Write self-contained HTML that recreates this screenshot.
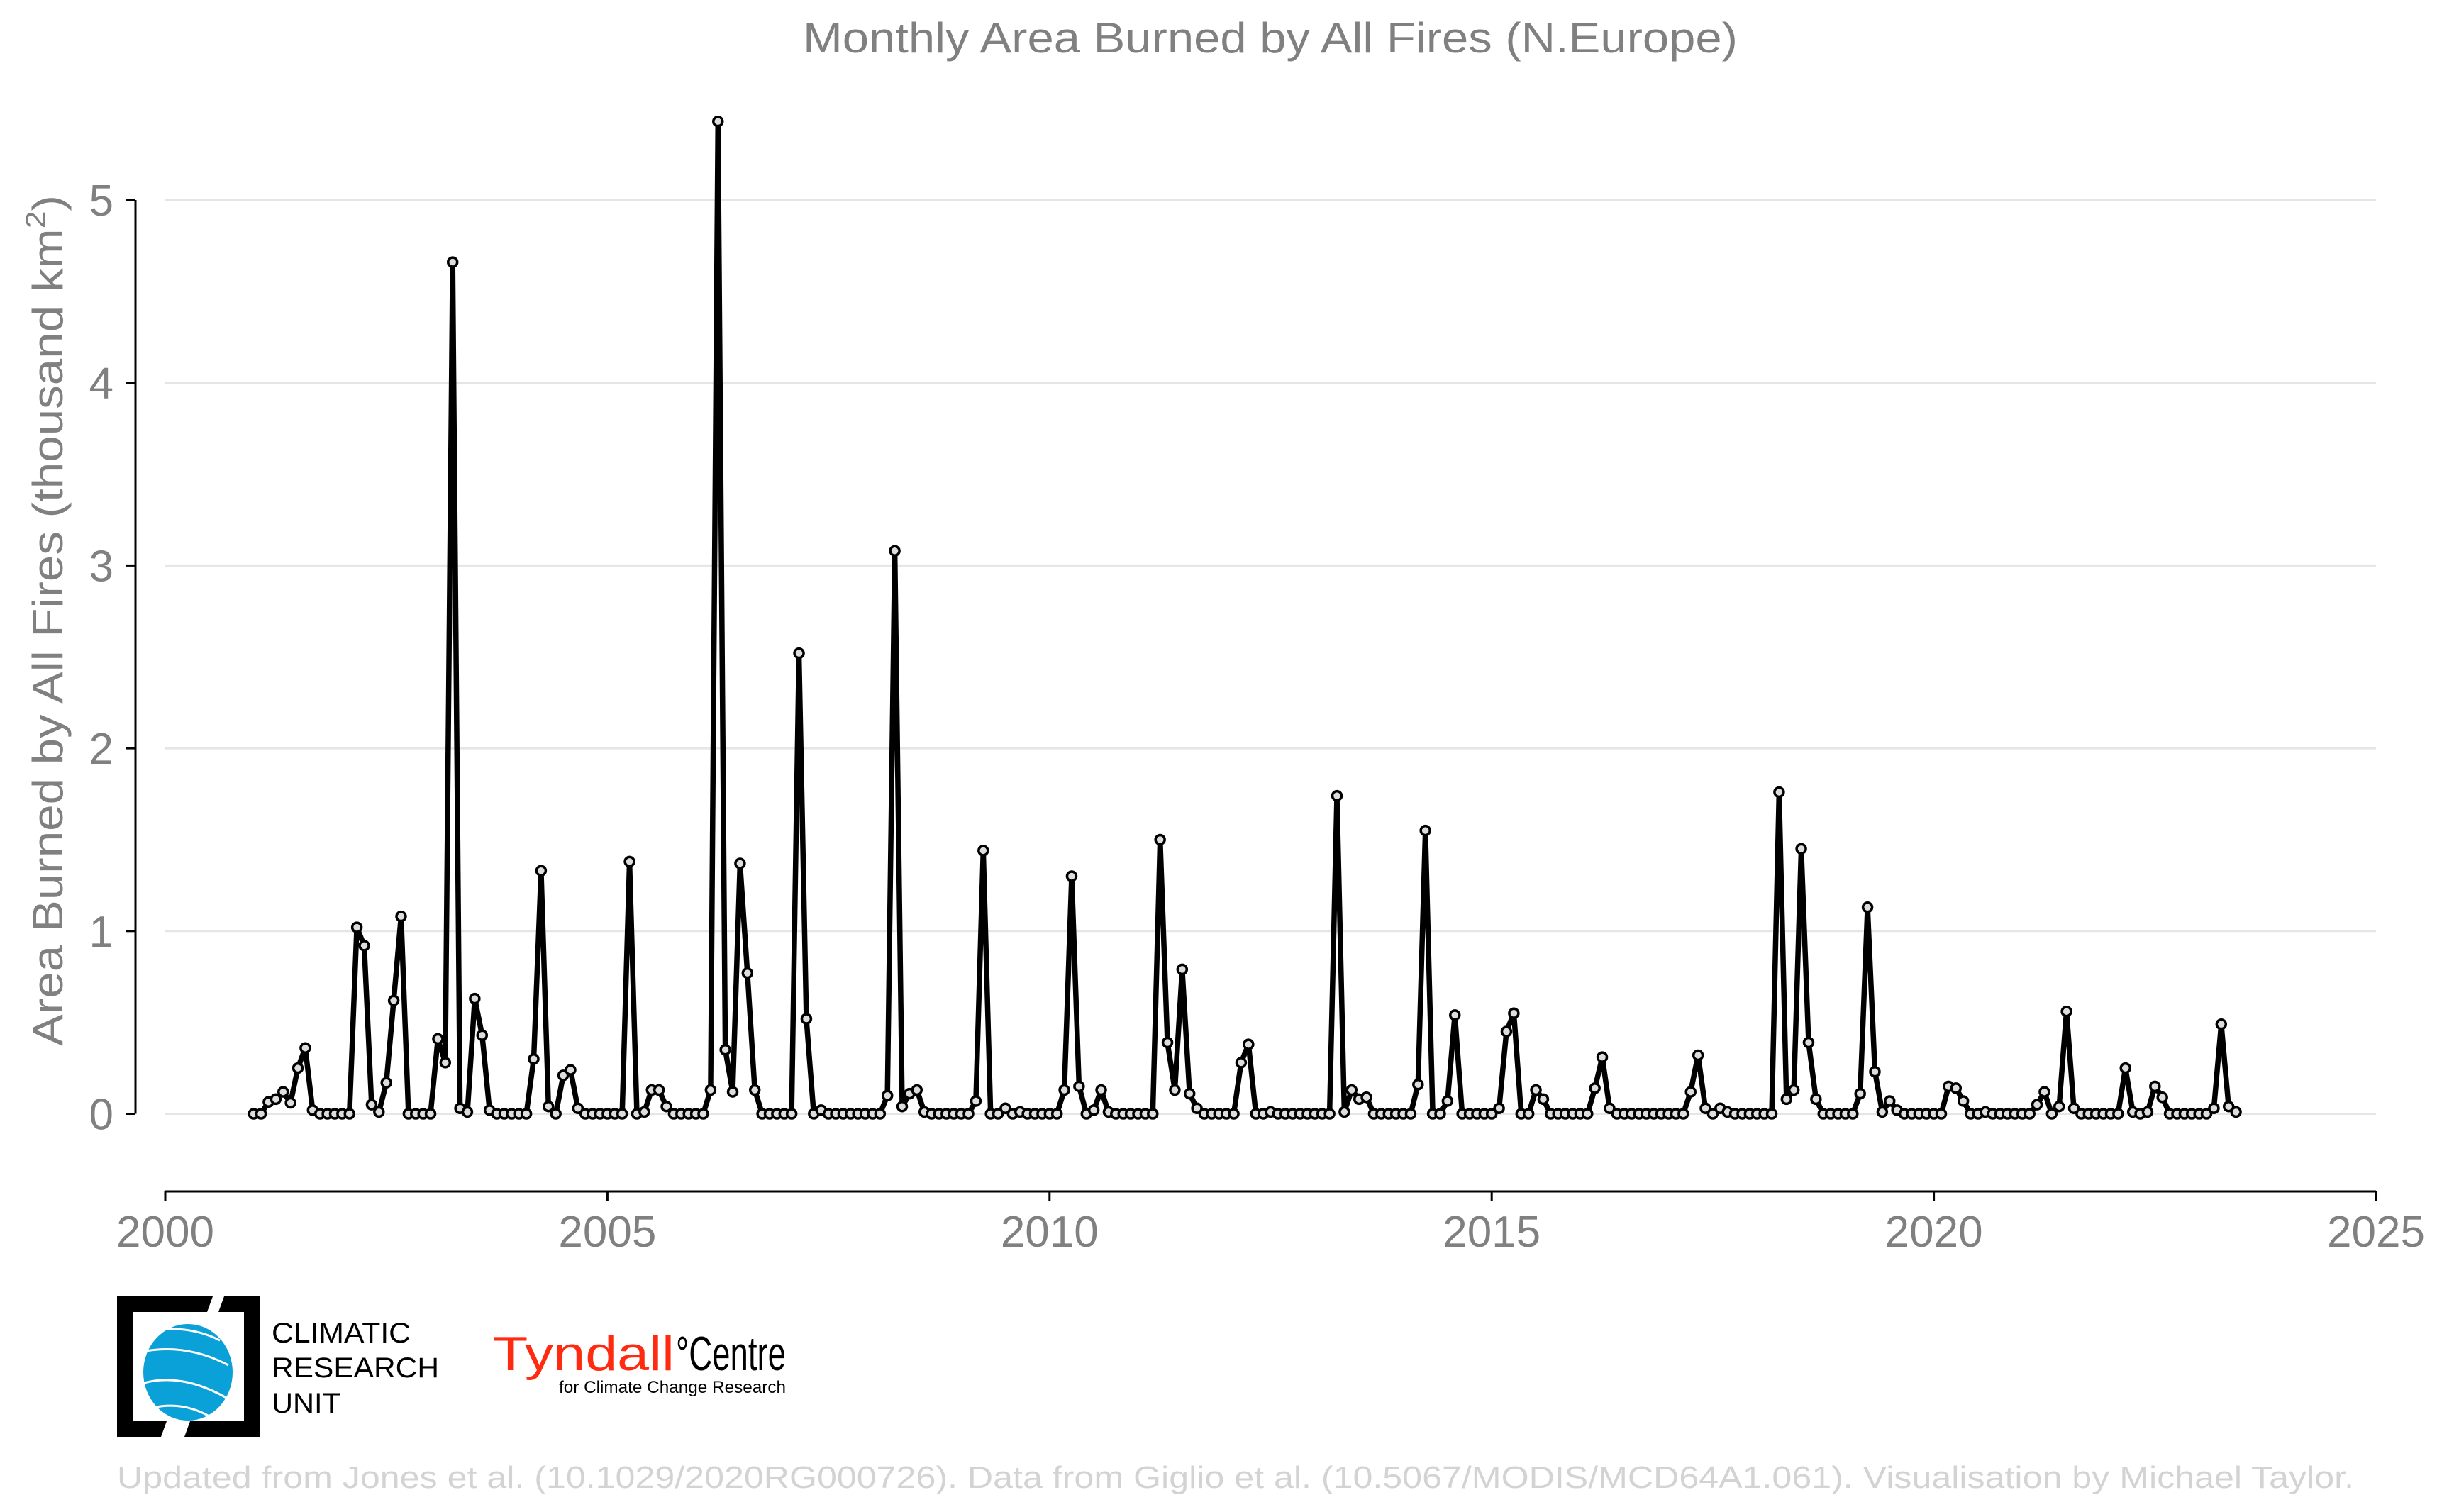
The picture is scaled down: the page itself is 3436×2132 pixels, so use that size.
<!DOCTYPE html>
<html>
<head>
<meta charset="utf-8">
<style>
  html, body { margin: 0; padding: 0; background: #ffffff; }
  svg { display: block; }
  text { font-family: "Liberation Sans", sans-serif; }
</style>
</head>
<body>
<svg id="chart" width="3436" height="2132" viewBox="0 0 3436 2132" xmlns="http://www.w3.org/2000/svg">
  <rect x="0" y="0" width="3436" height="2132" fill="#ffffff"/>
  <text x="1791" y="74" text-anchor="middle" font-size="60" fill="#808080" textLength="1318" lengthAdjust="spacingAndGlyphs">Monthly Area Burned by All Fires (N.Europe)</text>
  <g id="grid"></g>
  <g id="yaxis"></g>
  <g id="xaxis"></g>
  <text transform="translate(88,875) rotate(-90)" text-anchor="middle" font-size="60" fill="#808080" textLength="1200" lengthAdjust="spacingAndGlyphs">Area Burned by All Fires (thousand km<tspan font-size="40" dy="-24">2</tspan><tspan dy="24">)</tspan></text>
  <g id="series"></g>

  <g>
    <path d="M165,1828 L300,1828 L292,1850 L187,1850 L187,2004 L235,2004 L227,2026 L165,2026 Z" fill="#000"/>
    <path d="M316,1828 L366,1828 L366,2026 L260,2026 L268,2004 L344,2004 L344,1850 L308,1850 Z" fill="#000"/>
    <ellipse cx="265" cy="1935" rx="63" ry="68" fill="#0aa0d8"/>
    <path d="M206,1905 Q265,1895 322,1925 M203,1950 Q260,1935 326,1975 M215,1985 Q260,1975 300,2000 M225,1875 Q270,1870 310,1890" stroke="#fff" stroke-width="3" fill="none"/>
    <text x="383" y="1893" font-size="40" fill="#000" textLength="196" lengthAdjust="spacingAndGlyphs">CLIMATIC</text>
    <text x="383" y="1942" font-size="40" fill="#000" textLength="236" lengthAdjust="spacingAndGlyphs">RESEARCH</text>
    <text x="383" y="1992" font-size="40" fill="#000" textLength="97" lengthAdjust="spacingAndGlyphs">UNIT</text>
  </g>
  <g>
    <text x="695" y="1932" font-size="68" fill="#ff2a10" textLength="256" lengthAdjust="spacingAndGlyphs">Tyndall</text>
    <text x="953" y="1932" font-size="68" fill="#000" textLength="155" lengthAdjust="spacingAndGlyphs">°Centre</text>
    <text x="788" y="1964" font-size="24" fill="#000" textLength="320" lengthAdjust="spacingAndGlyphs">for Climate Change Research</text>
  </g>
  <text x="165" y="2098" font-size="44" fill="#d3d3d3" textLength="3154" lengthAdjust="spacingAndGlyphs">Updated from Jones et al. (10.1029/2020RG000726). Data from Giglio et al. (10.5067/MODIS/MCD64A1.061). Visualisation by Michael Taylor.</text>
</svg>
<script>
const startYear = 2001;
const startMonth = 1;
const yTickValues = [0, 1, 2, 3, 4, 5];
const yTickLabels = ["0", "1", "2", "3", "4", "5"];
const xTickValues = [2000, 2005, 2010, 2015, 2020, 2025];
const xTickLabels = ["2000", "2005", "2010", "2015", "2020", "2025"];
const burned = [
  0,0,0.065,0.08,0.12,0.06,0.25,0.36,0.02,0,0,0,
  0,0,1.02,0.92,0.05,0.01,0.17,0.62,1.08,0,0,0,
  0,0.41,0.28,4.66,0.03,0.01,0.63,0.43,0.02,0,0,0,
  0,0,0.30,1.33,0.04,0,0.21,0.24,0.03,0,0,0,
  0,0,0,1.38,0,0.01,0.13,0.13,0.04,0,0,0,
  0,0,0.13,5.43,0.35,0.12,1.37,0.77,0.13,0,0,0,
  0,0,2.52,0.52,0,0.02,0,0,0,0,0,0,
  0,0,0.10,3.08,0.04,0.11,0.13,0.01,0,0,0,0,
  0,0,0.07,1.44,0,0,0.03,0,0.01,0,0,0,
  0,0,0.13,1.30,0.15,0,0.02,0.13,0.01,0,0,0,
  0,0,0,1.50,0.39,0.13,0.79,0.11,0.03,0,0,0,
  0,0,0.28,0.38,0,0,0.01,0,0,0,0,0,
  0,0,0,1.74,0.01,0.13,0.08,0.09,0,0,0,0,
  0,0,0.16,1.55,0,0,0.07,0.54,0,0,0,0,
  0,0.03,0.45,0.55,0,0,0.13,0.08,0,0,0,0,
  0,0,0.14,0.31,0.03,0,0,0,0,0,0,0,
  0,0,0,0.12,0.32,0.03,0,0.03,0.01,0,0,0,
  0,0,0,1.76,0.08,0.13,1.45,0.39,0.08,0,0,0,
  0,0,0.11,1.13,0.23,0.01,0.07,0.02,0,0,0,0,
  0,0,0.15,0.14,0.07,0,0,0.01,0,0,0,0,
  0,0,0.05,0.12,0,0.04,0.56,0.03,0,0,0,0,
  0,0,0.25,0.01,0,0.01,0.15,0.09,0,0,0,0,
  0,0,0.03,0.49,0.04,0.01
];

const NS = "http://www.w3.org/2000/svg";
const X0 = 233, X1 = 3350, Y0 = 1570.5, Y5 = 282;
function xScale(d) { return X0 + (d - 2000) / 25 * (X1 - X0); }
function yScale(v) { return Y0 + v / 5 * (Y5 - Y0); }
function mk(tag, attrs, parent) {
  const el = document.createElementNS(NS, tag);
  for (const k in attrs) el.setAttribute(k, attrs[k]);
  parent.appendChild(el);
  return el;
}

const grid = document.getElementById("grid");
const yaxis = document.getElementById("yaxis");
const xaxis = document.getElementById("xaxis");
const series = document.getElementById("series");

mk("line", {x1: 191, x2: 191, y1: yScale(5), y2: yScale(0), stroke: "#000", "stroke-width": 3}, yaxis);
yTickValues.forEach((v, i) => {
  const y = yScale(v);
  const g = mk("line", {x1: X0, x2: X1, y1: y, y2: y, stroke: "#e5e5e5", "stroke-width": 3}, grid);
  
  
  const t = mk("line", {x1: 177, x2: 191, y1: y, y2: y, stroke: "#000", "stroke-width": 3}, yaxis);
  
  
  const lbl = mk("text", {x: 160, y: y + 22, "text-anchor": "end", "font-size": 62, fill: "#808080"}, yaxis);
  lbl.textContent = yTickLabels[i];
  
  
});

const axisY = 1680;
mk("line", {x1: X0, x2: X1, y1: axisY, y2: axisY, stroke: "#000", "stroke-width": 3}, xaxis);
xTickValues.forEach((v, i) => {
  const x = xScale(v);
  const t = mk("line", {x1: x, x2: x, y1: axisY, y2: axisY + 14, stroke: "#000", "stroke-width": 3}, xaxis);
  
  
  const lbl = mk("text", {x: x, y: 1758, "text-anchor": "middle", "font-size": 62, fill: "#808080"}, xaxis);
  lbl.textContent = xTickLabels[i];
  
  
});

const pts = burned.map((v, i) => [xScale(startYear + (startMonth - 1 + i) / 12), yScale(v)]);
const line = mk("polyline", {points: pts.map(p => p[0].toFixed(1) + "," + p[1].toFixed(1)).join(" "), fill: "none", stroke: "#000", "stroke-width": 7.5, "stroke-linejoin": "round"}, series);


pts.forEach((p, i) => {
  const c = mk("circle", {cx: p[0], cy: p[1], r: 6.5, fill: "#dddddd", stroke: "#000", "stroke-width": 3.5}, series);
  
  
});
</script>
</body>
</html>
